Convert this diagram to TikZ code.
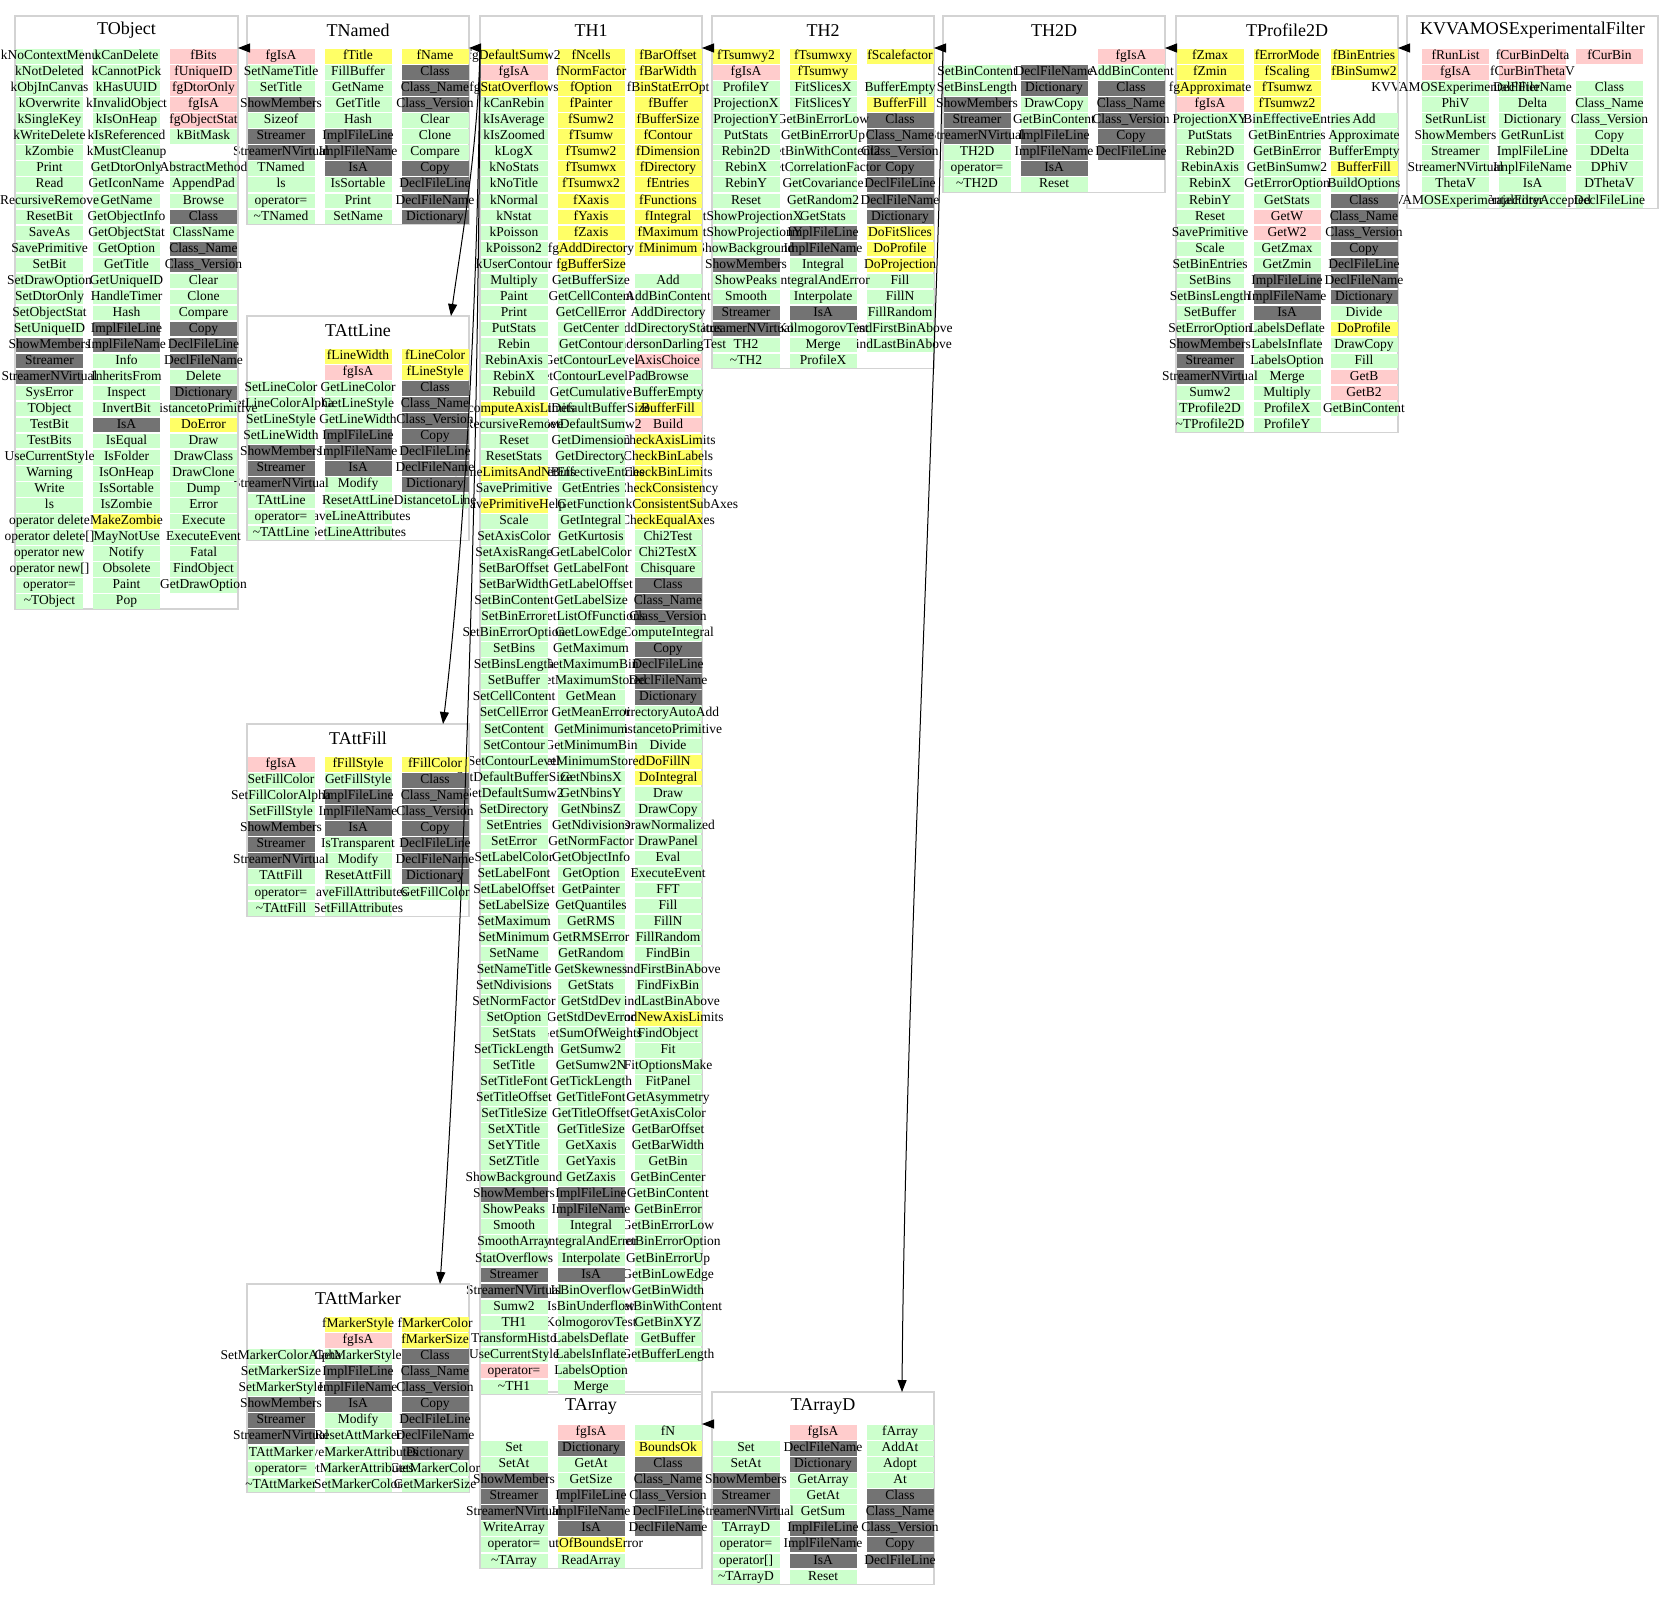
\documentclass[tikz,border=0pt]{standalone}
\usepackage{fontspec}
\setmainfont{Liberation Serif}
\usetikzlibrary{arrows.meta,calc}
\definecolor{cg}{HTML}{CCFFCC}
\definecolor{cp}{HTML}{FFCCCC}
\definecolor{cy}{HTML}{FFFF66}
\definecolor{cd}{HTML}{737373}
\definecolor{cb}{HTML}{D3D3D3}
\newcommand\cellfont{\fontsize{13.5}{14}\selectfont}
\newcommand\titlefont{\fontsize{18}{20}\selectfont}
\def\emptycode{E}
\tikzset{
  cell/.style={rectangle, inner sep=0pt, outer sep=0pt, minimum height=14.5pt,
    text height=9.5pt, text depth=3pt, font=\cellfont},
  G/.style={fill=cg}, P/.style={fill=cp}, Y/.style={fill=cy}, D/.style={fill=cd},
  cframe/.style={draw=cb, line width=1.5pt, inner sep=0pt, outer sep=0pt, anchor=north west},
  ctitle/.style={inner sep=0pt, font=\titlefont},
  inh/.style={-{Triangle[length=12pt,width=9pt]}, line width=1pt, black}
}
\newcommand\colcells[4]{%
  \foreach \cl/\tx [count=\ri from 0] in {#4}{%
    \edef\clx{\cl}%
    \ifx\clx\emptycode\else
      \node[cell,\cl] (#1-\ri) at (#2,{#3+16.03*\ri}) {\makebox[67pt]{\tx}};%
    \fi
  }%
}
\newcommand\tablecols[7]{%
  \pgfmathsetmacro\tabL{#2+(#3-221)/2}%
  \pgfmathsetmacro\colA{\tabL+33.5}%
  \pgfmathsetmacro\colB{\tabL+110.5}%
  \pgfmathsetmacro\colC{\tabL+187.5}%
  \pgfmathsetmacro\rowO{#4+40.5}%
  \colcells{#1-c}{\colC}{\rowO}{#7}%
  \colcells{#1-b}{\colB}{\rowO}{#6}%
  \colcells{#1-a}{\colA}{\rowO}{#5}%
}
\newcommand\classbox[6]{%
  \pgfmathsetmacro\bh{32+16.03*#5}%
  \node[cframe, minimum width=#4pt, minimum height=\bh pt] (#1) at (#2,#3) {};%
  \node[ctitle] (#1-title) at ($(#1.north)+(0,14.5)$) {#6};%
}
\begin{document}
\begin{tikzpicture}[x=1pt,y=-1pt]
\fill[white] (0,0) rectangle (1664,1600);
\useasboundingbox (0,0) rectangle (1664,1600);

% ---------------- KVVAMOSExperimentalFilter
\classbox{KVV}{1407}{16}{251}{10}{KVVAMOSExperimentalFilter}
\tablecols{KVV}{1407}{251}{16}
{P/fRunList, P/fgIsA, G/KVVAMOSExperimentalFilter, G/PhiV, G/SetRunList, G/ShowMembers, G/Streamer, G/StreamerNVirtual, G/ThetaV, G/\textasciitilde KVVAMOSExperimentalFilter}
{P/fCurBinDelta, P/fCurBinThetaV, G/DeclFileName, G/Delta, G/Dictionary, G/GetRunList, G/ImplFileLine, G/ImplFileName, G/IsA, G/IsTrajectoryAccepted}
{P/fCurBin, E/-, G/Class, G/Class\_Name, G/Class\_Version, G/Copy, G/DDelta, G/DPhiV, G/DThetaV, G/DeclFileLine}

% ---------------- TProfile2D
\classbox{TProfile2D}{1176}{16}{222}{24}{TProfile2D}
\tablecols{TProfile2D}{1176}{222}{16}
{Y/fZmax, Y/fZmin, Y/fgApproximate, P/fgIsA, G/ProjectionXY, G/PutStats, G/Rebin2D, G/RebinAxis, G/RebinX, G/RebinY, G/Reset, G/SavePrimitive, G/Scale, G/SetBinEntries, G/SetBins, G/SetBinsLength, G/SetBuffer, G/SetErrorOption, D/ShowMembers, D/Streamer, D/StreamerNVirtual, G/Sumw2, G/TProfile2D, G/\textasciitilde TProfile2D}
{Y/fErrorMode, Y/fScaling, Y/fTsumwz, Y/fTsumwz2, G/GetBinEffectiveEntries, G/GetBinEntries, G/GetBinError, G/GetBinSumw2, G/GetErrorOption, G/GetStats, P/GetW, P/GetW2, G/GetZmax, G/GetZmin, D/ImplFileLine, D/ImplFileName, D/IsA, G/LabelsDeflate, G/LabelsInflate, G/LabelsOption, G/Merge, G/Multiply, G/ProfileX, G/ProfileY}
{Y/fBinEntries, Y/fBinSumw2, E/-, E/-, G/Add, G/Approximate, G/BufferEmpty, Y/BufferFill, G/BuildOptions, D/Class, D/Class\_Name, D/Class\_Version, D/Copy, D/DeclFileLine, D/DeclFileName, D/Dictionary, G/Divide, Y/DoProfile, G/DrawCopy, G/Fill, P/GetB, P/GetB2, G/GetBinContent}

% ---------------- TH2D
\classbox{TH2D}{943}{16}{222}{9}{TH2D}
\tablecols{TH2D}{943}{222}{16}
{E/-, G/SetBinContent, G/SetBinsLength, D/ShowMembers, D/Streamer, D/StreamerNVirtual, G/TH2D, G/operator=, G/\textasciitilde TH2D}
{E/-, D/DeclFileName, D/Dictionary, G/DrawCopy, G/GetBinContent, D/ImplFileLine, D/ImplFileName, D/IsA, G/Reset}
{P/fgIsA, G/AddBinContent, D/Class, D/Class\_Name, D/Class\_Version, D/Copy, D/DeclFileLine}

% ---------------- TArrayD
\classbox{TArrayD}{712}{1392}{222}{10}{TArrayD}
\tablecols{TArrayD}{712}{222}{1392}
{E/-, G/Set, G/SetAt, D/ShowMembers, D/Streamer, D/StreamerNVirtual, G/TArrayD, G/operator=, G/operator[], G/\textasciitilde TArrayD}
{P/fgIsA, D/DeclFileName, D/Dictionary, G/GetArray, G/GetAt, G/GetSum, D/ImplFileLine, D/ImplFileName, D/IsA, G/Reset}
{G/fArray, G/AddAt, G/Adopt, G/At, D/Class, D/Class\_Name, D/Class\_Version, D/Copy, D/DeclFileLine}

% ---------------- TH2
\classbox{TH2}{712}{16}{222}{20}{TH2}
\tablecols{TH2}{712}{222}{16}
{Y/fTsumwy2, P/fgIsA, G/ProfileY, G/ProjectionX, G/ProjectionY, G/PutStats, G/Rebin2D, G/RebinX, G/RebinY, G/Reset, G/SetShowProjectionX, G/SetShowProjectionY, G/ShowBackground, D/ShowMembers, G/ShowPeaks, G/Smooth, D/Streamer, D/StreamerNVirtual, G/TH2, G/\textasciitilde TH2}
{Y/fTsumwxy, Y/fTsumwy, G/FitSlicesX, G/FitSlicesY, G/GetBinErrorLow, G/GetBinErrorUp, G/GetBinWithContent2, G/GetCorrelationFactor, G/GetCovariance, G/GetRandom2, G/GetStats, D/ImplFileLine, D/ImplFileName, G/Integral, G/IntegralAndError, G/Interpolate, D/IsA, G/KolmogorovTest, G/Merge, G/ProfileX}
{Y/fScalefactor, E/-, G/BufferEmpty, Y/BufferFill, D/Class, D/Class\_Name, D/Class\_Version, D/Copy, D/DeclFileLine, D/DeclFileName, D/Dictionary, Y/DoFitSlices, Y/DoProfile, Y/DoProjection, G/Fill, G/FillN, G/FillRandom, G/FindFirstBinAbove, G/FindLastBinAbove}

% ---------------- TArray
\classbox{TArray}{480}{1392}{222}{9}{TArray}
\tablecols{TArray}{480}{222}{1392}
{E/-, G/Set, G/SetAt, D/ShowMembers, D/Streamer, D/StreamerNVirtual, G/WriteArray, G/operator=, G/\textasciitilde TArray}
{P/fgIsA, D/Dictionary, G/GetAt, G/GetSize, D/ImplFileLine, D/ImplFileName, D/IsA, Y/OutOfBoundsError, G/ReadArray}
{G/fN, Y/BoundsOk, D/Class, D/Class\_Name, D/Class\_Version, D/DeclFileLine, D/DeclFileName}

% ---------------- TH1
\classbox{TH1}{480}{16}{222}{84}{TH1}
\tablecols{TH1}{480}{222}{16}
{Y/fgDefaultSumw2, P/fgIsA, Y/fgStatOverflows, G/kCanRebin, G/kIsAverage, G/kIsZoomed, G/kLogX, G/kNoStats, G/kNoTitle, G/kNormal, G/kNstat, G/kPoisson, G/kPoisson2, G/kUserContour, G/Multiply, G/Paint, G/Print, G/PutStats, G/Rebin, G/RebinAxis, G/RebinX, G/Rebuild, Y/RecomputeAxisLimits, G/RecursiveRemove, G/Reset, G/ResetStats, Y/SameLimitsAndNBins, G/SavePrimitive, Y/SavePrimitiveHelp, G/Scale, G/SetAxisColor, G/SetAxisRange, G/SetBarOffset, G/SetBarWidth, G/SetBinContent, G/SetBinError, G/SetBinErrorOption, G/SetBins, G/SetBinsLength, G/SetBuffer, G/SetCellContent, G/SetCellError, G/SetContent, G/SetContour, G/SetContourLevel, G/SetDefaultBufferSize, G/SetDefaultSumw2, G/SetDirectory, G/SetEntries, G/SetError, G/SetLabelColor, G/SetLabelFont, G/SetLabelOffset, G/SetLabelSize, G/SetMaximum, G/SetMinimum, G/SetName, G/SetNameTitle, G/SetNdivisions, G/SetNormFactor, G/SetOption, G/SetStats, G/SetTickLength, G/SetTitle, G/SetTitleFont, G/SetTitleOffset, G/SetTitleSize, G/SetXTitle, G/SetYTitle, G/SetZTitle, G/ShowBackground, D/ShowMembers, G/ShowPeaks, G/Smooth, G/SmoothArray, G/StatOverflows, D/Streamer, D/StreamerNVirtual, G/Sumw2, G/TH1, G/TransformHisto, G/UseCurrentStyle, P/operator=, G/\textasciitilde TH1}
{Y/fNcells, Y/fNormFactor, Y/fOption, Y/fPainter, Y/fSumw2, Y/fTsumw, Y/fTsumw2, Y/fTsumwx, Y/fTsumwx2, Y/fXaxis, Y/fYaxis, Y/fZaxis, Y/fgAddDirectory, Y/fgBufferSize, G/GetBufferSize, G/GetCellContent, G/GetCellError, G/GetCenter, G/GetContour, G/GetContourLevel, G/GetContourLevelPad, G/GetCumulative, G/GetDefaultBufferSize, G/GetDefaultSumw2, G/GetDimension, G/GetDirectory, G/GetEffectiveEntries, G/GetEntries, G/GetFunction, G/GetIntegral, G/GetKurtosis, G/GetLabelColor, G/GetLabelFont, G/GetLabelOffset, G/GetLabelSize, G/GetListOfFunctions, G/GetLowEdge, G/GetMaximum, G/GetMaximumBin, G/GetMaximumStored, G/GetMean, G/GetMeanError, G/GetMinimum, G/GetMinimumBin, G/GetMinimumStored, G/GetNbinsX, G/GetNbinsY, G/GetNbinsZ, G/GetNdivisions, G/GetNormFactor, G/GetObjectInfo, G/GetOption, G/GetPainter, G/GetQuantiles, G/GetRMS, G/GetRMSError, G/GetRandom, G/GetSkewness, G/GetStats, G/GetStdDev, G/GetStdDevError, G/GetSumOfWeights, G/GetSumw2, G/GetSumw2N, G/GetTickLength, G/GetTitleFont, G/GetTitleOffset, G/GetTitleSize, G/GetXaxis, G/GetYaxis, G/GetZaxis, D/ImplFileLine, D/ImplFileName, G/Integral, G/IntegralAndError, G/Interpolate, D/IsA, G/IsBinOverflow, G/IsBinUnderflow, G/KolmogorovTest, G/LabelsDeflate, G/LabelsInflate, G/LabelsOption, G/Merge}
{Y/fBarOffset, Y/fBarWidth, Y/fBinStatErrOpt, Y/fBuffer, Y/fBufferSize, Y/fContour, Y/fDimension, Y/fDirectory, Y/fEntries, Y/fFunctions, Y/fIntegral, Y/fMaximum, Y/fMinimum, E/-, G/Add, G/AddBinContent, G/AddDirectory, G/AddDirectoryStatus, G/AndersonDarlingTest, P/AxisChoice, G/Browse, G/BufferEmpty, Y/BufferFill, P/Build, Y/CheckAxisLimits, Y/CheckBinLabels, Y/CheckBinLimits, Y/CheckConsistency, Y/CheckConsistentSubAxes, Y/CheckEqualAxes, G/Chi2Test, G/Chi2TestX, G/Chisquare, D/Class, D/Class\_Name, D/Class\_Version, G/ComputeIntegral, D/Copy, D/DeclFileLine, D/DeclFileName, D/Dictionary, G/DirectoryAutoAdd, G/DistancetoPrimitive, G/Divide, Y/DoFillN, Y/DoIntegral, G/Draw, G/DrawCopy, G/DrawNormalized, G/DrawPanel, G/Eval, G/ExecuteEvent, G/FFT, G/Fill, G/FillN, G/FillRandom, G/FindBin, G/FindFirstBinAbove, G/FindFixBin, G/FindLastBinAbove, Y/FindNewAxisLimits, G/FindObject, G/Fit, G/FitOptionsMake, G/FitPanel, G/GetAsymmetry, G/GetAxisColor, G/GetBarOffset, G/GetBarWidth, G/GetBin, G/GetBinCenter, G/GetBinContent, G/GetBinError, G/GetBinErrorLow, G/GetBinErrorOption, G/GetBinErrorUp, G/GetBinLowEdge, G/GetBinWidth, G/GetBinWithContent, G/GetBinXYZ, G/GetBuffer, G/GetBufferLength}

% ---------------- TAttMarker
\classbox{TAttMarker}{247}{1284}{222}{11}{TAttMarker}
\tablecols{TAttMarker}{247}{222}{1284}
{E/-, E/-, G/SetMarkerColorAlpha, G/SetMarkerSize, G/SetMarkerStyle, D/ShowMembers, D/Streamer, D/StreamerNVirtual, G/TAttMarker, G/operator=, G/\textasciitilde TAttMarker}
{Y/fMarkerStyle, P/fgIsA, G/GetMarkerStyle, D/ImplFileLine, D/ImplFileName, D/IsA, G/Modify, G/ResetAttMarker, G/SaveMarkerAttributes, G/SetMarkerAttributes, G/SetMarkerColor}
{Y/fMarkerColor, Y/fMarkerSize, D/Class, D/Class\_Name, D/Class\_Version, D/Copy, D/DeclFileLine, D/DeclFileName, D/Dictionary, G/GetMarkerColor, G/GetMarkerSize}

% ---------------- TAttFill
\classbox{TAttFill}{247}{724}{222}{10}{TAttFill}
\tablecols{TAttFill}{247}{222}{724}
{P/fgIsA, G/SetFillColor, G/SetFillColorAlpha, G/SetFillStyle, D/ShowMembers, D/Streamer, D/StreamerNVirtual, G/TAttFill, G/operator=, G/\textasciitilde TAttFill}
{Y/fFillStyle, G/GetFillStyle, D/ImplFileLine, D/ImplFileName, D/IsA, G/IsTransparent, G/Modify, G/ResetAttFill, G/SaveFillAttributes, G/SetFillAttributes}
{Y/fFillColor, D/Class, D/Class\_Name, D/Class\_Version, D/Copy, D/DeclFileLine, D/DeclFileName, D/Dictionary, G/GetFillColor}

% ---------------- TAttLine
\classbox{TAttLine}{247}{316}{222}{12}{TAttLine}
\tablecols{TAttLine}{247}{222}{316}
{E/-, E/-, G/SetLineColor, G/SetLineColorAlpha, G/SetLineStyle, G/SetLineWidth, D/ShowMembers, D/Streamer, D/StreamerNVirtual, G/TAttLine, G/operator=, G/\textasciitilde TAttLine}
{Y/fLineWidth, P/fgIsA, G/GetLineColor, G/GetLineStyle, G/GetLineWidth, D/ImplFileLine, D/ImplFileName, D/IsA, G/Modify, G/ResetAttLine, G/SaveLineAttributes, G/SetLineAttributes}
{Y/fLineColor, Y/fLineStyle, D/Class, D/Class\_Name, D/Class\_Version, D/Copy, D/DeclFileLine, D/DeclFileName, D/Dictionary, G/DistancetoLine}

% ---------------- TNamed
\classbox{TNamed}{247}{16}{222}{11}{TNamed}
\tablecols{TNamed}{247}{222}{16}
{P/fgIsA, G/SetNameTitle, G/SetTitle, D/ShowMembers, G/Sizeof, D/Streamer, D/StreamerNVirtual, G/TNamed, G/ls, G/operator=, G/\textasciitilde TNamed}
{Y/fTitle, G/FillBuffer, G/GetName, G/GetTitle, G/Hash, D/ImplFileLine, D/ImplFileName, D/IsA, G/IsSortable, G/Print, G/SetName}
{Y/fName, D/Class, D/Class\_Name, D/Class\_Version, G/Clear, G/Clone, G/Compare, D/Copy, D/DeclFileLine, D/DeclFileName, D/Dictionary}

% ---------------- TObject
\classbox{TObject}{15}{16}{223}{35}{TObject}
\tablecols{TObject}{15}{223}{16}
{G/kNoContextMenu, G/kNotDeleted, G/kObjInCanvas, G/kOverwrite, G/kSingleKey, G/kWriteDelete, G/kZombie, G/Print, G/Read, G/RecursiveRemove, G/ResetBit, G/SaveAs, G/SavePrimitive, G/SetBit, G/SetDrawOption, G/SetDtorOnly, G/SetObjectStat, G/SetUniqueID, D/ShowMembers, D/Streamer, D/StreamerNVirtual, G/SysError, G/TObject, G/TestBit, G/TestBits, G/UseCurrentStyle, G/Warning, G/Write, G/ls, G/operator delete, G/operator delete[], G/operator new, G/operator new[], G/operator=, G/\textasciitilde TObject}
{G/kCanDelete, G/kCannotPick, G/kHasUUID, G/kInvalidObject, G/kIsOnHeap, G/kIsReferenced, G/kMustCleanup, G/GetDtorOnly, G/GetIconName, G/GetName, G/GetObjectInfo, G/GetObjectStat, G/GetOption, G/GetTitle, G/GetUniqueID, G/HandleTimer, G/Hash, D/ImplFileLine, D/ImplFileName, G/Info, G/InheritsFrom, G/Inspect, G/InvertBit, D/IsA, G/IsEqual, G/IsFolder, G/IsOnHeap, G/IsSortable, G/IsZombie, Y/MakeZombie, G/MayNotUse, G/Notify, G/Obsolete, G/Paint, G/Pop}
{P/fBits, P/fUniqueID, P/fgDtorOnly, P/fgIsA, P/fgObjectStat, G/kBitMask, E/-, G/AbstractMethod, G/AppendPad, G/Browse, D/Class, G/ClassName, D/Class\_Name, D/Class\_Version, G/Clear, G/Clone, G/Compare, D/Copy, D/DeclFileLine, D/DeclFileName, G/Delete, D/Dictionary, G/DistancetoPrimitive, Y/DoError, G/Draw, G/DrawClass, G/DrawClone, G/Dump, G/Error, G/Execute, G/ExecuteEvent, G/Fatal, G/FindObject, G/GetDrawOption}

% ---------------- ports
\coordinate (TObject-in) at ($(TObject.north east)+(0,32)$);
\coordinate (TNamed-in) at ($(TNamed.north east)+(0,32)$);
\coordinate (TNamed-out) at ($(TNamed.north west)+(0,32)$);
\coordinate (TH1-in) at ($(TH1.north east)+(0,32)$);
\coordinate (TH1-out) at ($(TH1.north west)+(0,32)$);
\coordinate (TH2-in) at ($(TH2.north east)+(0,32)$);
\coordinate (TH2-out) at ($(TH2.north west)+(0,32)$);
\coordinate (TH2D-in) at ($(TH2D.north east)+(0,32)$);
\coordinate (TH2D-out) at ($(TH2D.north west)+(0,32)$);
\coordinate (TProfile2D-in) at ($(TProfile2D.north east)+(0,32)$);
\coordinate (TProfile2D-out) at ($(TProfile2D.north west)+(0,32)$);
\coordinate (KVV-out) at ($(KVV.north west)+(0,32)$);
\coordinate (TArray-in) at ($(TArray.north east)+(0,32)$);
\coordinate (TArrayD-out) at ($(TArrayD.north west)+(0,32)$);
\coordinate (TAttLine-in) at ($(TAttLine.north east)+(-18,0)$);
\coordinate (TAttFill-in) at ($(TAttFill.north east)+(-26,0)$);
\coordinate (TAttMarker-in) at ($(TAttMarker.north east)+(-29,0)$);
\coordinate (TArrayD-in) at ($(TArrayD.north east)+(-32,0)$);

% ---------------- edges
\draw[inh] (TNamed-out) -- (TObject-in);
\draw[inh] (TH1-out) -- (TNamed-in);
\draw[inh] (TH2-out) -- (TH1-in);
\draw[inh] (TH2D-out) -- (TH2-in);
\draw[inh] (TProfile2D-out) -- (TH2D-in);
\draw[inh] (KVV-out) -- (TProfile2D-in);
\draw[inh] (TArrayD-out) -- (TArray-in);
\draw[inh] (TH1-out) .. controls +(-2,102) and +(9,-66) .. (TAttLine-in);
\draw[inh] (TH1-out) .. controls +(-2,302) and +(15,-124) .. (TAttFill-in);
\draw[inh] (TH1-out) .. controls +(-2,552) and +(16,-234) .. (TAttMarker-in);
\draw[inh] (TH2D-out) .. controls +(-7,352) and +(3,-392) .. (TArrayD-in);
\end{tikzpicture}
\end{document}
